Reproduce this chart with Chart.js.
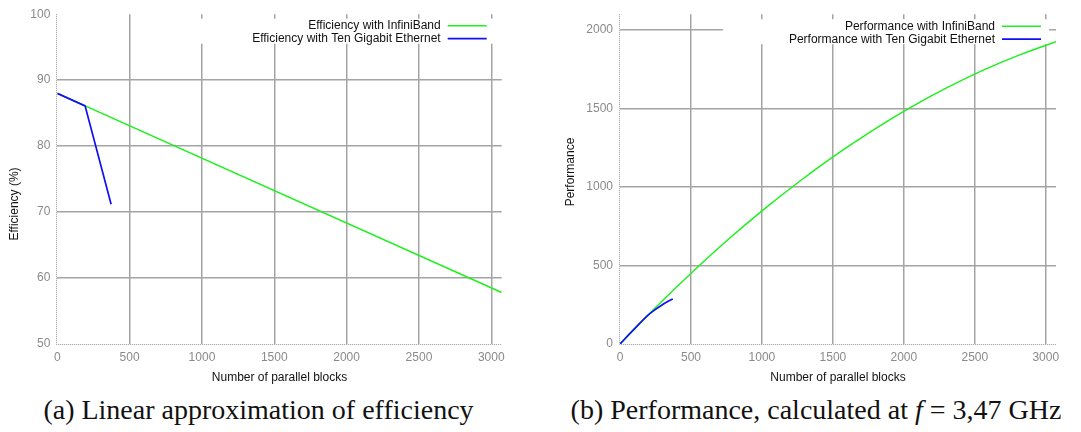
<!DOCTYPE html>
<html>
<head>
<meta charset="utf-8">
<script src="https://cdn.jsdelivr.net/npm/chart.js@4.4.1/dist/chart.umd.min.js"></script>
<style>
  html, body { margin: 0; padding: 0; background: #fff; width: 1081px; height: 432px; overflow: hidden; }
  #wrap { position: relative; width: 1081px; height: 432px; }
  canvas { position: absolute; top: 0; }
  #cEff { left: 0; }
  #cPerf { left: 540px; }
  .cap { position: absolute; top: 392px; height: 36px; line-height: 36px; text-align: center;
         font-family: "Liberation Serif", "DejaVu Serif", serif; font-size: 28px; color: #111; white-space: nowrap; }
</style>
</head>
<body>
<div id="wrap">
  <canvas id="cEff" width="540" height="392"></canvas>
  <canvas id="cPerf" width="541" height="392"></canvas>
  <div class="cap" style="left:0; width:517px;">(a) Linear approximation of efficiency</div>
  <div class="cap" style="left:541px; width:550px;">(b) Performance, calculated at <i>f</i> = 3,47 GHz</div>
</div>
<script>
// Efficiency (%) against number of parallel blocks
const effBlocksIB  = [0, 3072];
const effIB        = [88.0, 57.8];
const effBlocksEth = [0, 192, 372];
const effEth       = [88.0, 86.1, 71.2];

// Performance against number of parallel blocks
const perfBlocksIB  = [0, 256, 512, 768, 1024, 1280, 1536, 1792, 2048, 2304, 2560, 2816, 3072];
const perfIB        = [0, 237, 460, 670, 865, 1046, 1214, 1367, 1507, 1632, 1744, 1841, 1925];
const perfBlocksEth = [0, 96, 192, 240, 288, 336, 372];
const perfEth       = [0, 91, 179, 214, 244, 270, 287];

// tick values
const blockTicks = [0, 500, 1000, 1500, 2000, 2500, 3000];
const effTicks   = [50, 60, 70, 80, 90, 100];
const perfTicks  = [0, 500, 1000, 1500, 2000];

const labelsEff  = ['Efficiency with InfiniBand', 'Efficiency with Ten Gigabit Ethernet'];
const labelsPerf = ['Performance with InfiniBand', 'Performance with Ten Gigabit Ethernet'];
const xTitle = 'Number of parallel blocks';

const GREEN = '#1ef01e';
const BLUE  = '#1010f0';
const GRID  = '#a4a4a4';
const TICK  = '#8a8a8a';
const FONT  = '"Liberation Sans", Arial, Helvetica, sans-serif';

Chart.defaults.font.family = FONT;
Chart.defaults.font.size = 12;

const pts = (xs, ys) => xs.map((x, i) => ({ x, y: ys[i] }));

// key drawn inside the plot, top right, on an opaque white box
const keyBox = {
  id: 'keyBox',
  beforeDatasetsDraw(chart, args, o) {
    const { ctx, chartArea: a } = chart;
    ctx.save();
    ctx.font = '12px ' + FONT;
    const sampleRight = a.right - o.sampleInset;
    const sampleLeft = sampleRight - o.sampleLength;
    const textRight = sampleLeft - o.gap;
    const widest = Math.max(...chart.data.datasets.map(d => ctx.measureText(d.label).width));
    const boxLeft = textRight - widest - o.padLeft;
    const boxRight = a.right - o.boxInset;
    ctx.fillStyle = '#ffffff';
    ctx.fillRect(boxLeft, a.top + o.boxTop, boxRight - boxLeft, o.boxHeight);
    chart.data.datasets.forEach((d, i) => {
      const y = a.top + o.firstRow + i * o.rowStep;
      ctx.fillStyle = '#111';
      ctx.textAlign = 'right';
      ctx.textBaseline = 'middle';
      ctx.fillText(d.label, textRight, y);
      ctx.strokeStyle = d.borderColor;
      ctx.lineWidth = d.borderWidth;
      ctx.beginPath();
      ctx.moveTo(sampleLeft, y);
      ctx.lineTo(sampleRight, y);
      ctx.stroke();
    });
    ctx.restore();
  }
};

// dotted left and bottom plot border
const dottedFrame = {
  id: 'dottedFrame',
  beforeDatasetsDraw(chart) {
    const { ctx, chartArea: a } = chart;
    ctx.save();
    ctx.strokeStyle = '#9a9a9a';
    ctx.lineWidth = 1;
    ctx.setLineDash([1, 1]);
    ctx.beginPath();
    ctx.moveTo(Math.round(a.left) - 0.5, a.top);
    ctx.lineTo(Math.round(a.left) - 0.5, Math.round(a.bottom) + 0.5);
    ctx.lineTo(a.right, Math.round(a.bottom) + 0.5);
    ctx.stroke();
    ctx.restore();
  }
};

// rotated y-axis caption at a set position
const yCaption = {
  id: 'yCaption',
  afterDraw(chart, args, o) {
    const { ctx } = chart;
    ctx.save();
    ctx.font = '12px ' + FONT;
    ctx.fillStyle = '#111';
    ctx.textAlign = 'center';
    ctx.textBaseline = 'middle';
    ctx.translate(o.x, o.y);
    ctx.rotate(-Math.PI / 2);
    ctx.fillText(o.text, 0, 0);
    ctx.restore();
  }
};

function gridColour(hidden) {
  return c => (hidden.includes(c.tick.value) ? 'rgba(0,0,0,0)' : GRID);
}

function fixedTicks(values) {
  return s => { s.ticks = values.map(v => ({ value: v })); };
}

function makeChart(id, cfg) {
  return new Chart(document.getElementById(id), {
    type: 'line',
    data: { datasets: cfg.datasets },
    plugins: [dottedFrame, keyBox, yCaption],
    options: {
      responsive: false,
      animation: false,
      layout: { padding: { top: cfg.padTop, right: cfg.padRight, left: 0, bottom: 0 } },
      plugins: {
        legend: { display: false },
        tooltip: { enabled: false },
        keyBox: { sampleInset: 15, sampleLength: 39, gap: 7, padLeft: cfg.keyPadLeft, boxInset: 7,
                  boxTop: 13 - cfg.padTop, boxHeight: 25, firstRow: 20 - cfg.padTop, rowStep: 13 },
        yCaption: { text: cfg.yTitle, x: cfg.yTitleX, y: cfg.yTitleY }
      },
      elements: { point: { radius: 0 } },
      scales: {
        x: {
          type: 'linear',
          min: 0, max: 3072,
          afterBuildTicks: fixedTicks(blockTicks),
          afterFit: s => { s.height = 48; },
          ticks: { color: TICK, padding: 6, maxRotation: 0, autoSkip: false,
                   callback: v => String(v), font: { size: 12 } },
          grid: { color: gridColour([0]), lineWidth: 1.5, drawTicks: false },
          border: { display: false },
          title: { display: true, text: xTitle, color: '#111', font: { size: 12 },
                   padding: { top: 0, bottom: 7 } }
        },
        y: {
          type: 'linear',
          min: cfg.yMin, max: cfg.yMax,
          afterBuildTicks: fixedTicks(cfg.yTicks),
          afterFit: s => { s.width = cfg.yWidth; },
          ticks: { color: TICK, padding: 7, autoSkip: false,
                   callback: v => String(v), font: { size: 12 } },
          grid: { color: gridColour(cfg.yHidden), lineWidth: 1.5, drawTicks: false },
          border: { display: false },
          title: { display: false }
        }
      }
    }
  });
}

makeChart('cEff', {
  padTop: 8.5, padRight: 38.3, yWidth: 57.3, keyPadLeft: 61,
  yMin: 50, yMax: 100, yTicks: effTicks, yHidden: [50, 100],
  yTitle: 'Efficiency (%)', yTitleX: 15, yTitleY: 204,
  datasets: [
    { label: labelsEff[0], data: pts(effBlocksIB, effIB), borderColor: GREEN, borderWidth: 1.5,
      tension: 0, order: 1 },
    { label: labelsEff[1], data: pts(effBlocksEth, effEth), borderColor: BLUE, borderWidth: 1.7,
      tension: 0, order: 0 }
  ]
});

makeChart('cPerf', {
  padTop: 8, padRight: 25, yWidth: 80, keyPadLeft: 66,
  yMin: 0, yMax: 2100, yTicks: perfTicks, yHidden: [0],
  yTitle: 'Performance', yTitleX: 31, yTitleY: 172,
  datasets: [
    { label: labelsPerf[0], data: pts(perfBlocksIB, perfIB), borderColor: GREEN, borderWidth: 1.5,
      cubicInterpolationMode: 'monotone', order: 1 },
    { label: labelsPerf[1], data: pts(perfBlocksEth, perfEth), borderColor: BLUE, borderWidth: 1.7,
      cubicInterpolationMode: 'monotone', order: 0 }
  ]
});
</script>
</body>
</html>
